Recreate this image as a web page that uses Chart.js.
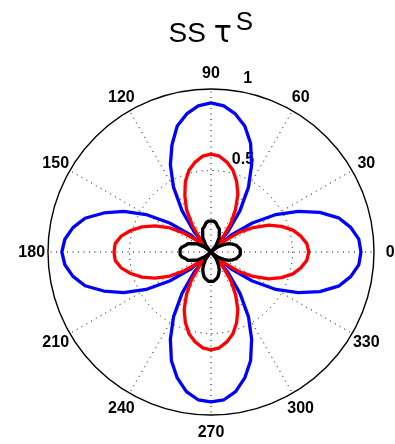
<!DOCTYPE html>
<html>
<head>
<meta charset="utf-8">
<script src="https://cdn.jsdelivr.net/npm/chart.js@4/dist/chart.umd.min.js"></script>
<style>
  html, body { margin: 0; padding: 0; background: #fff; }
  #wrap { width: 395px; height: 444px; }
</style>
</head>
<body>
<div id="wrap"><canvas id="c" width="395" height="444"></canvas></div>
<script>
// Polar angles (degrees, counter-clockwise from east)
const angles = [
  0, 5, 10, 15, 20, 25, 30, 35, 40, 45, 50, 55, 60, 65, 70, 75, 80, 85,
  90, 95, 100, 105, 110, 115, 120, 125, 130, 135, 140, 145, 150, 155, 160, 165, 170, 175,
  180, 185, 190, 195, 200, 205, 210, 215, 220, 225, 230, 235, 240, 245, 250, 255, 260, 265,
  270, 275, 280, 285, 290, 295, 300, 305, 310, 315, 320, 325, 330, 335, 340, 345, 350, 355
];

// Radius of each curve at those angles
const blueR = [
  0.92, 0.91, 0.87, 0.81, 0.71, 0.59, 0.46, 0.31, 0.16, 0.00, 0.16, 0.31, 0.46, 0.59, 0.71, 0.80, 0.86, 0.90,
  0.915, 0.90, 0.86, 0.80, 0.70, 0.59, 0.46, 0.31, 0.16, 0.00, 0.16, 0.31, 0.46, 0.59, 0.70, 0.80, 0.86, 0.90,
  0.915, 0.90, 0.86, 0.80, 0.70, 0.59, 0.46, 0.31, 0.16, 0.00, 0.16, 0.31, 0.46, 0.59, 0.71, 0.80, 0.87, 0.91,
  0.92, 0.91, 0.87, 0.80, 0.71, 0.59, 0.46, 0.31, 0.16, 0.00, 0.16, 0.31, 0.46, 0.59, 0.71, 0.81, 0.87, 0.91
];
const redR = [
  0.60, 0.59, 0.56, 0.52, 0.46, 0.39, 0.30, 0.21, 0.10, 0.00, 0.10, 0.21, 0.30, 0.39, 0.46, 0.52, 0.56, 0.59,
  0.60, 0.59, 0.56, 0.52, 0.46, 0.38, 0.30, 0.20, 0.10, 0.00, 0.10, 0.20, 0.30, 0.38, 0.45, 0.51, 0.56, 0.59,
  0.595, 0.59, 0.56, 0.51, 0.45, 0.38, 0.30, 0.20, 0.10, 0.00, 0.10, 0.21, 0.30, 0.39, 0.46, 0.52, 0.56, 0.59,
  0.60, 0.59, 0.56, 0.52, 0.46, 0.39, 0.30, 0.21, 0.10, 0.00, 0.10, 0.21, 0.30, 0.39, 0.46, 0.52, 0.56, 0.59
];
const blackR = [
  0.18, 0.18, 0.17, 0.16, 0.14, 0.12, 0.09, 0.06, 0.03, 0.00, 0.03, 0.06, 0.10, 0.12, 0.15, 0.16, 0.18, 0.19,
  0.19, 0.19, 0.18, 0.16, 0.15, 0.12, 0.10, 0.06, 0.03, 0.00, 0.03, 0.06, 0.10, 0.12, 0.15, 0.16, 0.18, 0.19,
  0.19, 0.19, 0.18, 0.16, 0.15, 0.12, 0.10, 0.06, 0.03, 0.00, 0.03, 0.06, 0.09, 0.12, 0.14, 0.16, 0.17, 0.18,
  0.18, 0.18, 0.17, 0.16, 0.14, 0.12, 0.09, 0.06, 0.03, 0.00, 0.03, 0.06, 0.09, 0.12, 0.14, 0.16, 0.17, 0.18
];

// Axis annotations
const angleTicks = [0, 30, 60, 90, 120, 150, 180, 210, 240, 270, 300, 330];
const radialTicks = [0.5, 1];
const titleLead = 'SS ';
const titleSymbol = '\u03C4';
const titleSup = 'S';

// The radial scale walks clockwise; with startAngle 90 index 0 sits at east,
// so the points are fed in clockwise order (0, 355, 350, ...).
const order = angles.map((_, k) => (angles.length - k) % angles.length);
const labels = order.map(i => String(angles[i]));
const pick = arr => order.map(i => arr[i]);
const indexOfAngle = a => order.indexOf(angles.indexOf(a));

const FONT = '"Liberation Sans", Arial, Helvetica, sans-serif';

const polarFrame = {
  id: 'polarFrame',
  beforeDatasetsDraw(chart) {
    const s = chart.scales.r;
    const ctx = chart.ctx;
    const cx = s.xCenter, cy = s.yCenter;
    const R = s.getDistanceFromCenterForValue(1);
    ctx.save();
    // dotted inner ring(s)
    ctx.strokeStyle = '#000';
    ctx.lineWidth = 1;
    ctx.setLineDash([1, 4.5]);
    radialTicks.filter(v => v < 1).forEach(v => {
      ctx.beginPath();
      ctx.arc(cx, cy, s.getDistanceFromCenterForValue(v), 0, Math.PI * 2);
      ctx.stroke();
    });
    // dotted spokes
    angleTicks.forEach(a => {
      const p = s.getPointPositionForValue(indexOfAngle(a), 1);
      ctx.beginPath();
      ctx.moveTo(cx, cy);
      ctx.lineTo(p.x, p.y);
      ctx.stroke();
    });
    // solid outer ring
    ctx.setLineDash([]);
    ctx.lineWidth = 1.4;
    ctx.beginPath();
    ctx.arc(cx, cy, R, 0, Math.PI * 2);
    ctx.stroke();

    // radial tick labels along 82 degrees
    ctx.fillStyle = '#000';
    ctx.font = 'bold 16px ' + FONT;
    ctx.textAlign = 'left';
    ctx.textBaseline = 'alphabetic';
    const a82 = 82 * Math.PI / 180;
    radialTicks.forEach(v => {
      const d = s.getDistanceFromCenterForValue(v + 0.025);
      const x = cx + d * Math.cos(a82);
      const y = cy - d * Math.sin(a82);
      ctx.fillText('  ' + String(v), x, y - 3.4);
    });
    ctx.restore();
  },
  afterDraw(chart) {
    const s = chart.scales.r;
    const ctx = chart.ctx;
    ctx.save();
    ctx.fillStyle = '#000';
    // angle labels
    ctx.font = 'bold 16px ' + FONT;
    ctx.textAlign = 'center';
    ctx.textBaseline = 'middle';
    angleTicks.forEach(a => {
      const p = s.getPointPositionForValue(indexOfAngle(a), 1.1);
      ctx.fillText(String(a), p.x, p.y + 1);
    });
    // title: "SS τ" with a raised S
    ctx.textAlign = 'left';
    ctx.textBaseline = 'alphabetic';
    let x = 168.5;
    ctx.font = '28px ' + FONT;
    ctx.fillText(titleLead, x, 42);
    x += ctx.measureText(titleLead).width;
    ctx.font = '30px "DejaVu Sans", sans-serif';
    ctx.fillText(titleSymbol, x, 42);
    x += ctx.measureText(titleSymbol).width + 4;
    ctx.font = '26px ' + FONT;
    ctx.fillText(titleSup, x, 30);
    ctx.restore();
  }
};

const lineStyle = color => ({
  borderColor: color,
  backgroundColor: color,
  borderWidth: 3.3,
  pointRadius: 0,
  pointHoverRadius: 0,
  fill: false,
  tension: 0,
  borderJoinStyle: 'round',
  borderCapStyle: 'round'
});

new Chart(document.getElementById('c'), {
  type: 'radar',
  data: {
    labels: labels,
    datasets: [
      Object.assign({ label: 'black', data: pick(blackR) }, lineStyle('#000000')),
      Object.assign({ label: 'red', data: pick(redR) }, lineStyle('#ff0000')),
      Object.assign({ label: 'blue', data: pick(blueR) }, lineStyle('#0000ff'))
    ]
  },
  options: {
    responsive: false,
    animation: false,
    devicePixelRatio: 1,
    layout: { padding: { left: 48, top: 89, right: 21, bottom: 29 } },
    plugins: {
      legend: { display: false },
      tooltip: { enabled: false },
      title: { display: false }
    },
    scales: {
      r: {
        min: 0,
        max: 1,
        startAngle: 90,
        ticks: { display: false, stepSize: 0.5 },
        grid: { display: false },
        angleLines: { display: false },
        pointLabels: { display: false }
      }
    }
  },
  plugins: [polarFrame]
});
</script>
</body>
</html>
